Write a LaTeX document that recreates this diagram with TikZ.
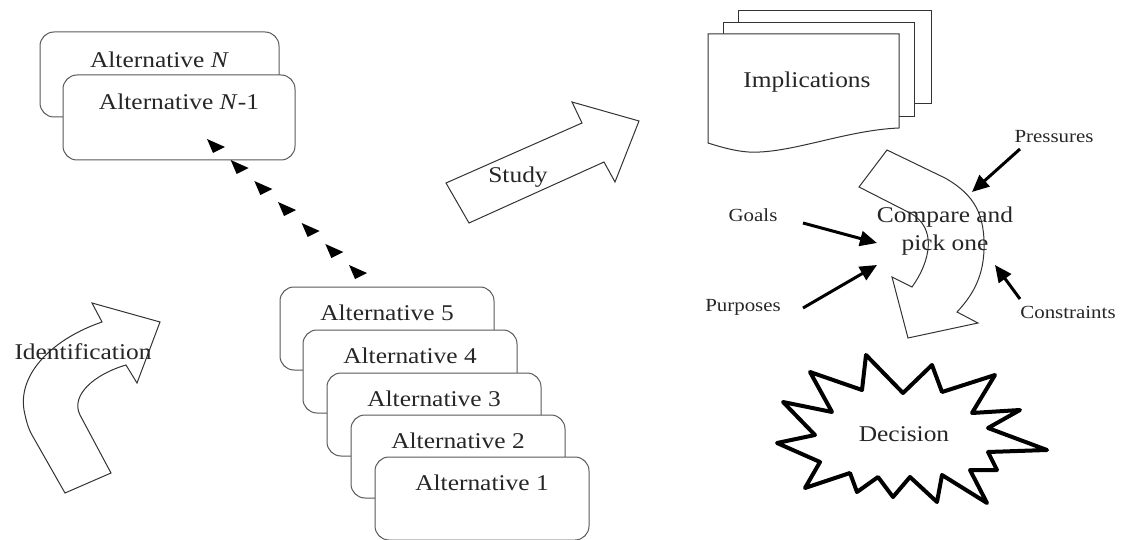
\documentclass[tikz,border=0pt]{standalone}
\usepackage{fontspec}
\setmainfont{Liberation Serif}[FakeStretch=1.13]
\usetikzlibrary{arrows.meta,calc}
\newcommand{\mainfs}{\fontsize{22.5}{28}\selectfont}
\newcommand{\smallfs}{\fontsize{18.5}{22}\selectfont}
\begin{document}
\begin{tikzpicture}[x=1pt,y=-1pt,
  altbox/.style={draw=black!65, fill=white, rounded corners=14pt, minimum width=214pt, minimum height=83pt, inner sep=0pt, line width=1pt},
  alttext/.style={anchor=center, font=\mainfs, text=black!85},
  outline/.style={draw=black!80, fill=white, line width=1pt, line join=miter},
  txt/.style={font=\mainfs, text=black!85, inner sep=0pt},
  smalltxt/.style={font=\smallfs, text=black!85, inner sep=0pt},
  push/.style={draw=black, line width=3pt, -{Triangle[length=17pt,width=15pt]}},
  dot/.style={fill=black}]
\useasboundingbox (0,0) rectangle (1122,540);

% ---- Alternatives N and N-1
\node[altbox, minimum width=239pt, minimum height=85pt, label={[alttext, yshift=-28pt]north:Alternative \textit{N}}] (aN) at (159.5,74.5) {};
\node[altbox, minimum width=232pt, minimum height=85pt, label={[alttext, yshift=-27pt]north:Alternative \textit{N}-1}] (aN1) at (179,117.5) {};

% ---- dotted chain of triangles
\coordinate (t0) at (215,146);
\coordinate (t6) at (357,272);
\foreach \i in {0,...,6}
  \fill[dot] ($(t0)!\i/6!(t6)$) ++(-8,-7) -- ++(6,14) -- ++(12,-6) -- cycle;

% ---- Alternatives 5..1
\node[altbox, label={[alttext, yshift=-26pt]north:Alternative 5}] (a5) at (387,328.5) {};
\node[altbox, label={[alttext, yshift=-26pt]north:Alternative 4}] (a4) at (410,371.5) {};
\node[altbox, label={[alttext, yshift=-26pt]north:Alternative 3}] (a3) at (434,414.5) {};
\node[altbox, label={[alttext, yshift=-26pt]north:Alternative 2}] (a2) at (458,456.5) {};
\node[altbox, label={[alttext, yshift=-26pt]north:Alternative 1}] (a1) at (482,498.5) {};

% ---- Identification arrow
\draw[outline] (65,493) -- (111,473) -- (80,415)
  .. controls (70,395) and (95,374) .. (126,365)
  -- (137,383) -- (160,322) -- (92,303) -- (102,322)
  .. controls (55,338) and (18,372) .. (24,410)
  .. controls (26,420) and (28,428) .. (32,435) -- cycle;
\node[txt] (ident) at (83,352) {Identification};

% ---- Study arrow
\draw[outline] (446,183) -- (582,123) -- (572,102) -- (639,121) -- (615,182) -- (604,162) -- (469,223) -- cycle;
\node[txt] (study) at (518,177) {Study};

% ---- Implications (stack of documents)
\draw[outline] (738,11) rectangle (931,104);
\draw[outline] (723,23) rectangle (914,117);
\draw[outline] (708,34) -- (899,34) -- (899,128)
  .. controls (850,130) and (800,150) .. (760,152)
  .. controls (745,153) and (730,150) .. (708,143) -- cycle;
\node[txt] (impl) at (807,82) {Implications};

% ---- Compare arrow
\draw[outline] (887,150) -- (945,178)
  .. controls (975,195) and (985,215) .. (984,250)
  .. controls (983,280) and (970,298) .. (957,312)
  -- (978,323) -- (908,338) -- (892,277) -- (912,287)
  .. controls (930,262) and (938,228) .. (910,213) -- (859,187) -- cycle;
\node[txt, align=center] (cmp) at (945,231) {Compare and\\pick one};

% ---- influences
\node[smalltxt] (press) at (1054,137) {Pressures};
\node[smalltxt] (goals) at (753,215) {Goals};
\node[smalltxt] (purp) at (743,307) {Purposes};
\node[smalltxt] (cons) at (1068,312) {Constraints};
\coordinate (pressS) at (1020,149);
\coordinate (pressE) at (972,192);
\coordinate (goalsS) at (803,223);
\coordinate (goalsE) at (877,243);
\coordinate (purpS) at (803,308);
\coordinate (purpE) at (877,265);
\coordinate (consS) at (1020,299);
\coordinate (consE) at (995,265);
\draw[push] (pressS) -- (pressE);
\draw[push] (goalsS) -- (goalsE);
\draw[push] (purpS) -- (purpE);
\draw[push] (consS) -- (consE);

% ---- Decision starburst
\draw[draw=black, fill=white, line width=4pt, line join=round]
  (866,355) -- (903,393) -- (932,365) -- (942,392) -- (995,375) -- (972,413)
  -- (1020,410) -- (988,428) -- (1047,450) -- (988,452) -- (997,470) -- (970,470)
  -- (987,503) -- (942,475) -- (937,502) -- (910,477) -- (893,497) -- (878,477)
  -- (857,492) -- (850,473) -- (805,488) -- (820,462) -- (777,443) -- (815,435)
  -- (783,402) -- (832,412) -- (810,372) -- (862,390) -- cycle;
\node[txt] (dec) at (904,434) {Decision};
\end{tikzpicture}
\end{document}
